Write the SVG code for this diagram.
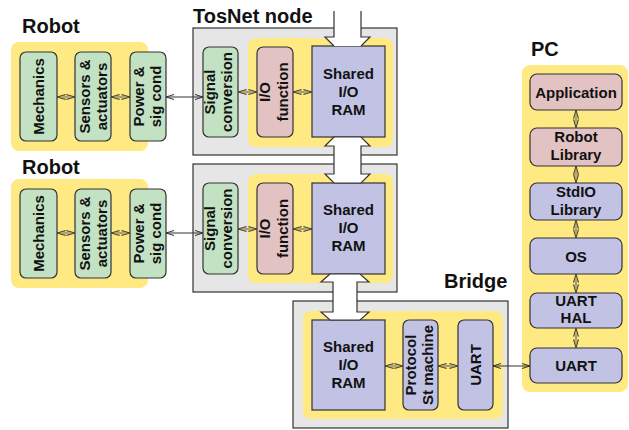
<svg xmlns="http://www.w3.org/2000/svg" width="629" height="430" viewBox="0 0 629 430">
<defs>
<style>
.ttl{font-family:"Liberation Sans",Arial,sans-serif;font-weight:bold;font-size:20px;fill:#111}
.lb{font-family:"Liberation Sans",Arial,sans-serif;font-weight:bold;font-size:15px;fill:#111;text-anchor:middle}
.gray{fill:#e6e6e6;stroke:#333;stroke-width:1.2}
.yel{fill:#ffe982;stroke:none}
.grn{fill:#c3e2c3;stroke:#333;stroke-width:1.2}
.pnk{fill:#e2c2c2;stroke:#333;stroke-width:1.2}
.pur{fill:#c2c2e4;stroke:#333;stroke-width:1.2}
.c{stroke:#444;stroke-width:1;fill:none;marker-start:url(#d);marker-end:url(#d)}
.cl{stroke:#333;stroke-width:1;fill:none;marker-start:url(#o);marker-end:url(#o)}
.big{fill:#fff;stroke:#333;stroke-width:1.2}
</style>
<marker id="d" viewBox="0 0 9 6" refX="9" refY="3" markerWidth="9" markerHeight="6" markerUnits="userSpaceOnUse" orient="auto-start-reverse">
<path d="M0.5,0.5 L9,3 L0.5,5.5" fill="#b8ab70" stroke="#4a4430" stroke-width="1"/>
</marker>
<marker id="o" viewBox="0 0 8 6" refX="8" refY="3" markerWidth="8" markerHeight="6" markerUnits="userSpaceOnUse" orient="auto-start-reverse">
<path d="M0,0.5 L8,3 L0,5.5" fill="none" stroke="#333" stroke-width="1"/>
</marker>
</defs>

<g id="robot1">
<text class="ttl" x="22" y="33">Robot</text>
<rect class="yel" x="11" y="42" width="137" height="109" rx="8"/>
<g id="r1-mechanics"><rect class="grn" x="20" y="52" width="37" height="89" rx="6"/>
<text class="lb" transform="rotate(-90 44 96.5)" x="44" y="96.5">Mechanics</text></g>
<g id="r1-sensors"><rect class="grn" x="75" y="52" width="36" height="89" rx="6"/>
<text class="lb" transform="rotate(-90 90 96.5)" x="90" y="96.5">Sensors &amp;</text>
<text class="lb" transform="rotate(-90 107 96.5)" x="107" y="96.5">actuators</text></g>
<g id="r1-power"><rect class="grn" x="130" y="52" width="36" height="89" rx="6"/>
<text class="lb" transform="rotate(-90 144 96.5)" x="144" y="96.5">Power &amp;</text>
<text class="lb" transform="rotate(-90 161 96.5)" x="161" y="96.5">sig cond</text></g>
</g>

<g id="robot2">
<text class="ttl" x="22" y="174">Robot</text>
<rect class="yel" x="11" y="179" width="137" height="109" rx="8"/>
<g id="r2-mechanics"><rect class="grn" x="20" y="189" width="37" height="89" rx="6"/>
<text class="lb" transform="rotate(-90 44 233.5)" x="44" y="233.5">Mechanics</text></g>
<g id="r2-sensors"><rect class="grn" x="75" y="189" width="36" height="89" rx="6"/>
<text class="lb" transform="rotate(-90 90 233.5)" x="90" y="233.5">Sensors &amp;</text>
<text class="lb" transform="rotate(-90 107 233.5)" x="107" y="233.5">actuators</text></g>
<g id="r2-power"><rect class="grn" x="130" y="189" width="36" height="89" rx="6"/>
<text class="lb" transform="rotate(-90 144 233.5)" x="144" y="233.5">Power &amp;</text>
<text class="lb" transform="rotate(-90 161 233.5)" x="161" y="233.5">sig cond</text></g>
</g>

<g id="tosnet1">
<text class="ttl" x="193" y="23">TosNet node</text>
<rect class="gray" x="193" y="28" width="204" height="127"/>
<rect class="yel" x="248" y="38" width="145" height="109" rx="8"/>
<g id="n1-signal"><rect class="grn" x="203" y="47" width="35" height="90" rx="6"/>
<text class="lb" transform="rotate(-90 215 92)" x="215" y="92">Signal</text>
<text class="lb" transform="rotate(-90 232 92)" x="232" y="92">conversion</text></g>
<g id="n1-io"><rect class="pnk" x="257" y="47" width="36" height="90" rx="6"/>
<text class="lb" transform="rotate(-90 270 92)" x="270" y="92">I/O</text>
<text class="lb" transform="rotate(-90 288 92)" x="288" y="92">function</text></g>
<g id="n1-ram"><rect class="pur" x="312" y="46" width="73" height="91"/>
<text class="lb" x="348.5" y="79">Shared</text>
<text class="lb" x="348.5" y="97">I/O</text>
<text class="lb" x="348.5" y="115">RAM</text></g>
</g>

<g id="tosnet2">
<rect class="gray" x="193" y="164" width="204" height="128"/>
<rect class="yel" x="248" y="174" width="145" height="109" rx="8"/>
<g id="n2-signal"><rect class="grn" x="203" y="183" width="35" height="91" rx="6"/>
<text class="lb" transform="rotate(-90 215 228.5)" x="215" y="228.5">Signal</text>
<text class="lb" transform="rotate(-90 232 228.5)" x="232" y="228.5">conversion</text></g>
<g id="n2-io"><rect class="pnk" x="257" y="183" width="36" height="91" rx="6"/>
<text class="lb" transform="rotate(-90 270 228.5)" x="270" y="228.5">I/O</text>
<text class="lb" transform="rotate(-90 288 228.5)" x="288" y="228.5">function</text></g>
<g id="n2-ram"><rect class="pur" x="312" y="183" width="73" height="91"/>
<text class="lb" x="348.5" y="215">Shared</text>
<text class="lb" x="348.5" y="233">I/O</text>
<text class="lb" x="348.5" y="251">RAM</text></g>
</g>

<g id="bridge">
<text class="ttl" x="444" y="288">Bridge</text>
<rect class="gray" x="293" y="301" width="215" height="127"/>
<rect class="yel" x="303" y="311" width="200" height="108" rx="8"/>
<g id="b-ram"><rect class="pur" x="312" y="320" width="73" height="90"/>
<text class="lb" x="348.5" y="352">Shared</text>
<text class="lb" x="348.5" y="370">I/O</text>
<text class="lb" x="348.5" y="388">RAM</text></g>
<g id="b-protocol"><rect class="pur" x="403" y="320" width="35" height="90" rx="6"/>
<text class="lb" transform="rotate(-90 416 365)" x="416" y="365">Protocol</text>
<text class="lb" transform="rotate(-90 433 365)" x="433" y="365">St machine</text></g>
<g id="b-uart"><rect class="pur" x="458" y="320" width="35" height="90" rx="6"/>
<text class="lb" transform="rotate(-90 481 365)" x="481" y="365">UART</text></g>
</g>

<g id="pc">
<text class="ttl" x="531" y="56">PC</text>
<rect class="yel" x="522" y="65" width="106" height="327" rx="8"/>
<g id="pc-app"><rect class="pnk" x="530" y="74" width="92" height="36" rx="7"/>
<text class="lb" x="576" y="97.5">Application</text></g>
<g id="pc-robotlib"><rect class="pnk" x="530" y="128" width="92" height="38" rx="7"/>
<text class="lb" x="576" y="142">Robot</text>
<text class="lb" x="576" y="160">Library</text></g>
<g id="pc-stdio"><rect class="pur" x="530" y="183" width="92" height="37" rx="7"/>
<text class="lb" x="576" y="197">StdIO</text>
<text class="lb" x="576" y="215">Library</text></g>
<g id="pc-os"><rect class="pur" x="530" y="238" width="92" height="36" rx="7"/>
<text class="lb" x="576" y="261.5">OS</text></g>
<g id="pc-hal"><rect class="pur" x="530" y="293" width="92" height="35" rx="7"/>
<text class="lb" x="576" y="306">UART</text>
<text class="lb" x="576" y="323">HAL</text></g>
<g id="pc-uart"><rect class="pur" x="530" y="348" width="92" height="35" rx="7"/>
<text class="lb" x="576" y="371">UART</text></g>
</g>

<g id="connectors">
<line class="c" x1="57" y1="97" x2="75" y2="97"/>
<line class="c" x1="111" y1="97" x2="130" y2="97"/>
<line class="cl" x1="166" y1="97" x2="203" y2="97"/>
<line class="c" x1="57" y1="233" x2="75" y2="233"/>
<line class="c" x1="111" y1="233" x2="130" y2="233"/>
<line class="cl" x1="166" y1="233" x2="203" y2="233"/>
<line class="c" x1="238" y1="92" x2="257" y2="92"/>
<line class="c" x1="293" y1="92" x2="312" y2="92"/>
<line class="c" x1="238" y1="229" x2="257" y2="229"/>
<line class="c" x1="293" y1="229" x2="312" y2="229"/>
<line class="c" x1="385" y1="366" x2="403" y2="366"/>
<line class="c" x1="438" y1="366" x2="458" y2="366"/>
<line class="cl" x1="493" y1="366" x2="530" y2="366"/>
<line class="c" x1="576" y1="110" x2="576" y2="128"/>
<line class="c" x1="576" y1="166" x2="576" y2="183"/>
<line class="c" x1="576" y1="220" x2="576" y2="238"/>
<line class="c" x1="576" y1="274" x2="576" y2="293"/>
<line class="c" x1="576" y1="328" x2="576" y2="348"/>
<path d="M334,11 L334,37 L325,37 L334,46 L361,46 L370,37 L361,37 L361,11 Z" fill="#fff" stroke="none"/>
<path d="M334,11 L334,37 L325,37 L334,46 M361,11 L361,37 L370,37 L361,46" fill="none" stroke="#333" stroke-width="1.2"/>
<polygon class="big" points="334,137 325,146 334,146 334,174 325,174 334,183 361,183 370,174 361,174 361,146 370,146 361,137"/>
<polygon class="big" points="330,274 321,282 333,282 333,312 321,312 330,320 360,320 369,312 357,312 357,282 369,282 360,274"/>
</g>
</svg>
